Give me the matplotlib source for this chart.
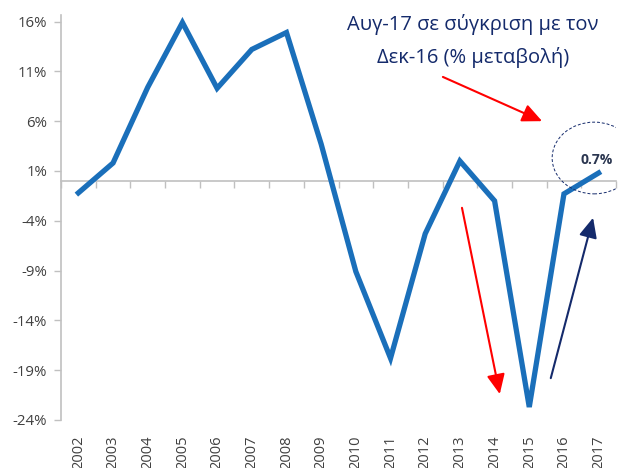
import matplotlib
matplotlib.use('Agg')
import matplotlib.pyplot as plt
from matplotlib.patches import Ellipse
import numpy as np

plt.rcParams['font.family'] = ['Open Sans', 'DejaVu Sans']

years = ['2002', '2003', '2004', '2005', '2006', '2007', '2008', '2009', '2010',
         '2011', '2012', '2013', '2014', '2015', '2016', '2017']
change = [-1.2, 1.8, 9.4, 15.9, 9.3, 13.2, 14.9, 3.7, -9.1,
          -17.8, -5.3, 2.0, -2.0, -22.7, -1.3, 0.8]
y_ticks = [-24, -19, -14, -9, -4, 1, 6, 11, 16]
last_label = '0.7%'
title_lines = ['Αυγ-17 σε σύγκριση με τον', 'Δεκ-16 (% μεταβολή)']

line_blue = '#1a6fba'
navy = '#142a6b'
axis_grey = '#c0c0c0'
text_grey = '#404040'

fig = plt.figure(figsize=(6.37, 4.68), dpi=100)
ax = fig.add_axes([0.0958, 0.1026, 0.8712, 0.8654])

x = np.arange(len(years))
ax.plot(x, change, color=line_blue, lw=3.8, solid_joinstyle='miter', zorder=3)

ax.set_xlim(-0.5, len(years) - 0.5)
ax.set_ylim(-24, 16.66)

# y axis
ax.set_yticks(y_ticks)
ax.set_yticklabels([f'{v}%' for v in y_ticks], fontsize=10.8, color=text_grey)
ax.tick_params(axis='y', length=5, color=axis_grey, width=1, pad=5)

# x labels at the bottom, no marks
ax.set_xticks(x)
ax.set_xticklabels(years, rotation=90, fontsize=10.5, color=text_grey, va='top')
ax.tick_params(axis='x', length=0, pad=11)

for s in ['top', 'right', 'bottom']:
    ax.spines[s].set_visible(False)
ax.spines['left'].set_color(axis_grey)
ax.spines['left'].set_linewidth(1.2)

# zero line with category boundary ticks
zero_ax = ax.secondary_xaxis(0, transform=ax.transData)
zero_ax.set_xticks(np.arange(len(years) + 1) - 0.5)
zero_ax.set_xticklabels([])
zero_ax.tick_params(length=5, color=axis_grey, width=1, direction='out')
zero_ax.spines['bottom'].set_color(axis_grey)
zero_ax.spines['bottom'].set_linewidth(1.2)

# annotations
fig.text(0.7425, 0.9466, title_lines[0], ha='center', va='center',
         fontsize=14.5, color=navy)
fig.text(0.7425, 0.878, title_lines[1], ha='center', va='center',
         fontsize=14.5, color=navy)

head = '-|>,head_length=1.2,head_width=0.55'
ax.annotate('', xy=(13.37, 6.0), xytext=(10.51, 10.44),
            arrowprops=dict(arrowstyle=head, color='red', lw=1.5,
                            shrinkA=0, shrinkB=0))
ax.annotate('', xy=(12.15, -21.4), xytext=(11.06, -2.7),
            arrowprops=dict(arrowstyle=head, color='red', lw=1.5,
                            shrinkA=0, shrinkB=0))
ax.annotate('', xy=(14.84, -3.7), xytext=(13.62, -19.8),
            arrowprops=dict(arrowstyle=head, color=navy, lw=1.5,
                            shrinkA=0, shrinkB=0))

ax.add_patch(Ellipse((14.87, 2.3), 2.42, 7.2, fill=False, ec=navy,
                     lw=0.7, ls=(0, (3, 2)), zorder=4))
ax.text(14.95, 2.1, last_label, ha='center', va='center', fontsize=10,
        fontweight='bold', color='#2b3650')

fig.savefig('out.png', dpi=100)
